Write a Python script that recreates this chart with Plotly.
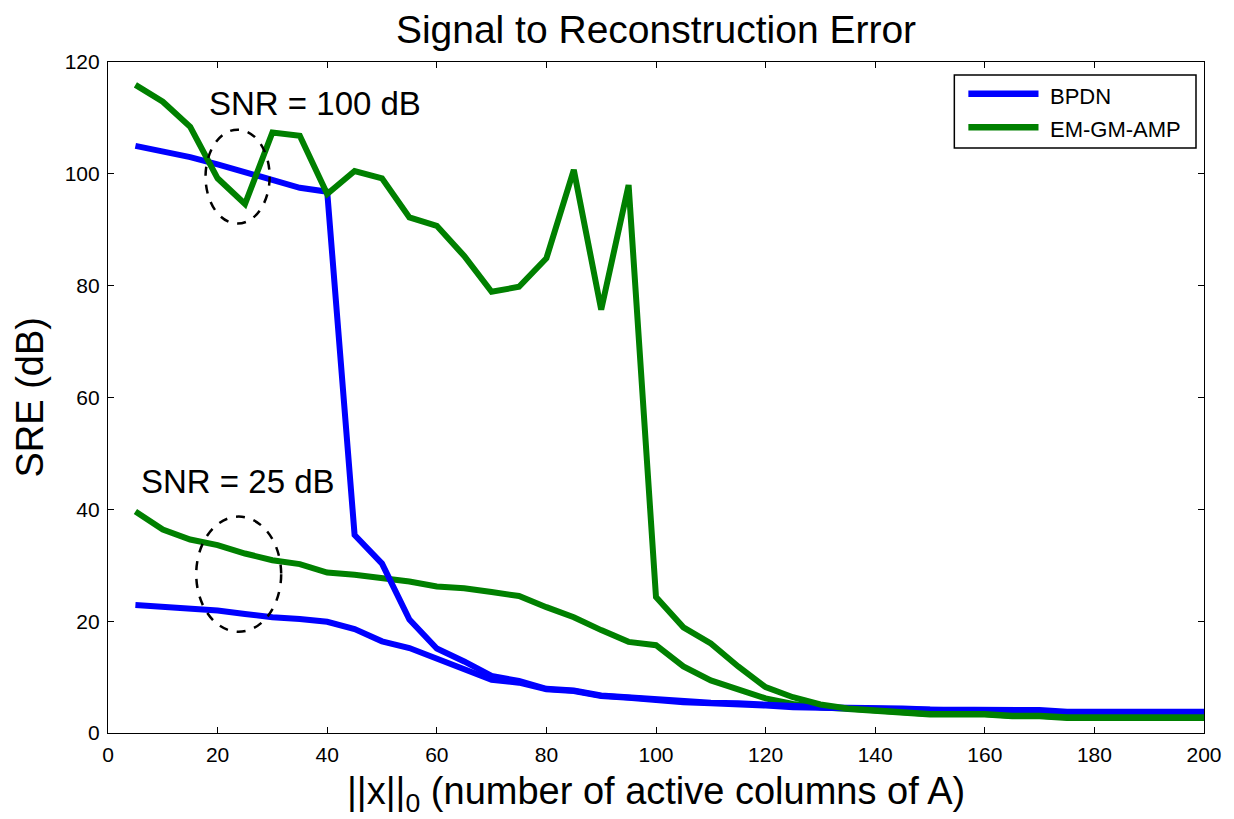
import plotly.graph_objects as go

# Number of active columns ||x||_0
k = [5, 10, 15, 20, 25, 30, 35, 40, 45, 50, 55, 60, 65, 70, 75, 80, 85, 90, 95, 100,
     105, 110, 115, 120, 125, 130, 135, 140, 145, 150, 155, 160, 165, 170, 175, 180, 185, 190, 195, 200]

# SRE (dB) at SNR = 100 dB
bpdn_100 = [105.0, 104.0, 103.0, 101.7, 100.3, 98.8, 97.5, 96.8, 35.4, 30.3,
            20.3, 15.1, 12.8, 10.2, 9.3, 7.9, 7.6, 6.7, 6.4, 5.9,
            5.6, 5.4, 5.3, 5.0, 4.7, 4.6, 4.5, 4.5, 4.4, 4.2,
            4.2, 4.2, 4.1, 4.1, 3.8, 3.8, 3.8, 3.8, 3.8, 3.8]
emgm_100 = [115.9, 112.9, 108.4, 99.2, 94.6, 107.4, 106.8, 96.4, 100.5, 99.2,
            92.2, 90.7, 85.3, 78.9, 79.8, 84.9, 100.7, 75.7, 98.0, 24.3,
            18.9, 16.0, 11.9, 8.2, 6.4, 5.1, 4.4, 4.0, 3.7, 3.4,
            3.4, 3.4, 3.1, 3.1, 2.8, 2.8, 2.8, 2.8, 2.8, 2.8]

# SRE (dB) at SNR = 25 dB
bpdn_25 = [22.9, 22.6, 22.3, 21.9, 21.3, 20.7, 20.4, 19.9, 18.6, 16.4,
           15.2, 13.3, 11.5, 9.5, 9.0, 7.8, 7.5, 6.6, 6.3, 5.8,
           5.5, 5.3, 5.2, 4.9, 4.6, 4.5, 4.4, 4.3, 4.2, 4.0,
           4.0, 4.0, 3.9, 3.9, 3.6, 3.6, 3.6, 3.6, 3.6, 3.6]
emgm_25 = [39.6, 36.4, 34.6, 33.6, 32.1, 30.9, 30.2, 28.7, 28.3, 27.7,
           27.1, 26.2, 25.9, 25.2, 24.5, 22.5, 20.7, 18.4, 16.3, 15.7,
           11.9, 9.4, 7.8, 6.2, 5.2, 4.6, 4.3, 3.9, 3.6, 3.3,
           3.3, 3.3, 3.0, 3.0, 2.7, 2.7, 2.7, 2.7, 2.7, 2.7]

series_names = ["BPDN", "EM-GM-AMP"]
BLUE = "rgb(0,0,255)"
GREEN = "rgb(0,128,0)"
FONT = "Liberation Sans, Arial, sans-serif"
LW = 6

fig = go.Figure()
for y, c in [(emgm_25, GREEN), (bpdn_25, BLUE), (bpdn_100, BLUE), (emgm_100, GREEN)]:
    fig.add_trace(go.Scatter(x=k, y=y, mode="lines", showlegend=False,
                             line=dict(color=c, width=LW), hoverinfo="skip"))

# dashed ellipses marking the two SNR groups
fig.add_shape(type="circle", xref="x", yref="y", x0=17.8, x1=29.5, y0=91.1, y1=107.9,
              line=dict(color="black", width=2.5, dash="dash"))
fig.add_shape(type="circle", xref="x", yref="y", x0=16.1, x1=31.6, y0=18.1, y1=38.7,
              line=dict(color="black", width=2.5, dash="dash"))

fig.add_annotation(x=37.7, y=112.6, xref="x", yref="y", text="SNR = 100 dB", showarrow=False,
                   font=dict(family=FONT, size=33, color="black"))
fig.add_annotation(x=23.8, y=44.9, xref="x", yref="y", text="SNR = 25 dB", showarrow=False,
                   font=dict(family=FONT, size=33, color="black"))

# legend box drawn in paper coordinates
fig.add_shape(type="rect", xref="paper", yref="paper", x0=0.7722, x1=0.9927, y0=0.8718, y1=0.9806,
              line=dict(color="black", width=1.5), fillcolor="white", layer="above")
for i, (name, c) in enumerate(zip(series_names, [BLUE, GREEN])):
    yy = 0.9527 - i * 0.0498
    fig.add_shape(type="line", xref="paper", yref="paper", x0=0.785, x1=0.849, y0=yy, y1=yy,
                  line=dict(color=c, width=6.5), layer="above")
    fig.add_annotation(x=0.8575, y=yy - 0.004, xref="paper", yref="paper", text=name,
                       showarrow=False, xanchor="left", yanchor="middle",
                       font=dict(family=FONT, size=22, color="black"))

# axis titles
fig.add_annotation(x=0, y=0.5, xref="paper", yref="paper", xshift=-79, text="SRE (dB)",
                   textangle=-90, showarrow=False, xanchor="center", yanchor="middle",
                   font=dict(family=FONT, size=38, color="black"))
fig.add_annotation(x=0.5, y=0, xref="paper", yref="paper", yshift=-61,
                   text="||x||<sub>0</sub> (number of active columns of A)",
                   showarrow=False, xanchor="center", yanchor="middle",
                   font=dict(family=FONT, size=38, color="black"))

axis_common = dict(showgrid=False, zeroline=False, showline=True, linecolor="black", linewidth=1.2,
                   mirror="ticks", ticks="inside", ticklen=6, tickcolor="black", tickwidth=1.2,
                   ticklabelstandoff=3,
                   tickfont=dict(family=FONT, size=21, color="black"))

fig.update_layout(
    width=1234, height=819,
    margin=dict(l=108, r=24, t=62, b=86),
    paper_bgcolor="white", plot_bgcolor="white",
    title=dict(text="Signal to Reconstruction Error", x=0.5, xref="paper",
               y=1 - 29 / 819, yref="container", xanchor="center", yanchor="middle",
               font=dict(family=FONT, size=39, color="black")),
    xaxis=dict(range=[0, 200], tickvals=list(range(0, 201, 20)), **axis_common),
    yaxis=dict(range=[0, 120], tickvals=list(range(0, 121, 20)), **axis_common),
    showlegend=False,
)

fig.write_html("out.html")
